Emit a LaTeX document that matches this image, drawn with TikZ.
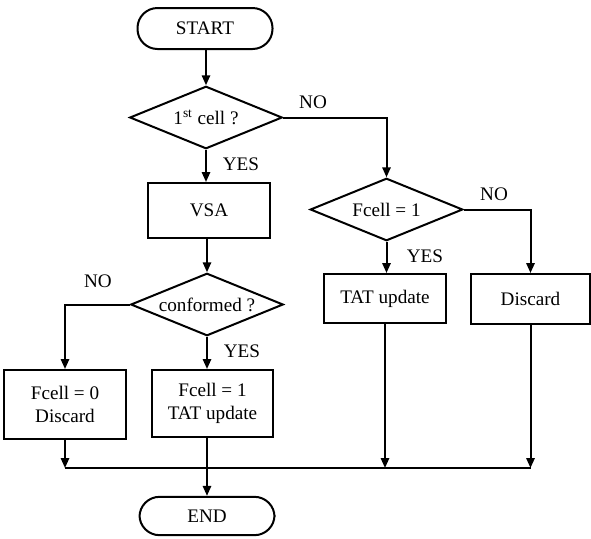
\documentclass[tikz,border=0pt]{standalone}
\usepackage{fontspec}
\setmainfont{Liberation Serif}
\usetikzlibrary{shapes.geometric,arrows.meta}

\begin{document}
\begin{tikzpicture}[x=0.6pt, y=-0.6pt,
  every node/.style={font=\fontsize{11.5}{14}\selectfont},
  term/.style={draw, black, line width=1.2pt, rounded corners=12pt, minimum width=81pt, minimum height=24.6pt, inner sep=0pt},
  test/.style={draw, black, diamond, aspect=2.4, line width=1.2pt, minimum width=91.5pt, minimum height=37.5pt, inner sep=0pt},
  proc/.style={draw, black, line width=1.2pt, minimum width=73.2pt, inner sep=0pt, align=center},
  flow/.style={black, line width=1.2pt, -{Triangle[length=6pt,width=5pt]}},
  lbl/.style={inner sep=0pt}]
\useasboundingbox (0,0) rectangle (591,538);

% left column
\node[term] (start) at (205,28.5) {START};
\node[test] (cell) at (206,117.5) {1\textsuperscript{st} cell ?};
\node[proc, minimum height=33pt] (vsa) at (209,210.5) {VSA};
\node[test] (conf) at (207,304.5) {conformed ?};
\node[proc, minimum height=41.4pt] (fzero) at (65,404.5) {Fcell = 0\\Discard};
\node[proc, minimum height=40.2pt, minimum width=72.6pt] (fone) at (212.5,403.5) {Fcell = 1\\TAT update};
\node[term, minimum height=23pt] (end) at (207,516) {END};

% right column
\node[test] (fchk) at (386.5,209.5) {Fcell = 1};
\node[proc, minimum height=29.4pt] (tat) at (385,298.5) {TAT update};
\node[proc, minimum width=71.4pt, minimum height=30pt] (disc) at (530.5,299) {Discard};

\node[lbl] (nocell) at (313,102) {NO};
\node[lbl] (yescell) at (241,164) {YES};
\node[lbl] (noconf) at (98,281) {NO};
\node[lbl] (yesconf) at (242,351) {YES};
\node[lbl] (nofchk) at (494,194) {NO};
\node[lbl] (yesfchk) at (425,256) {YES};

\coordinate (merge) at (65,468);

\draw[flow] (start.south -| cell) -- (cell.north);
\draw[flow] (cell.east) -| (fchk.north);
\draw[flow] (cell.south) -- (cell.south |- vsa.north);
\draw[flow] (vsa.south -| conf) -- (conf.north);
\draw[flow] (conf.west) -| (fzero.north);
\draw[flow] (conf.south) -- (conf.south |- fone.north);
\draw[flow] (fchk.south) -- (fchk.south |- tat.north);
\draw[flow] (fchk.east) -| (disc.north);

\draw[flow] (fzero.south) -- (merge);
\draw[black, line width=1.2pt] (merge) -- (merge -| disc.south);
\draw[flow] (tat.south) -- (tat.south |- merge);
\draw[flow] (disc.south) -- (disc.south |- merge);
\draw[flow] (end.north |- fone.south) -- (end.north);
\end{tikzpicture}
\end{document}
